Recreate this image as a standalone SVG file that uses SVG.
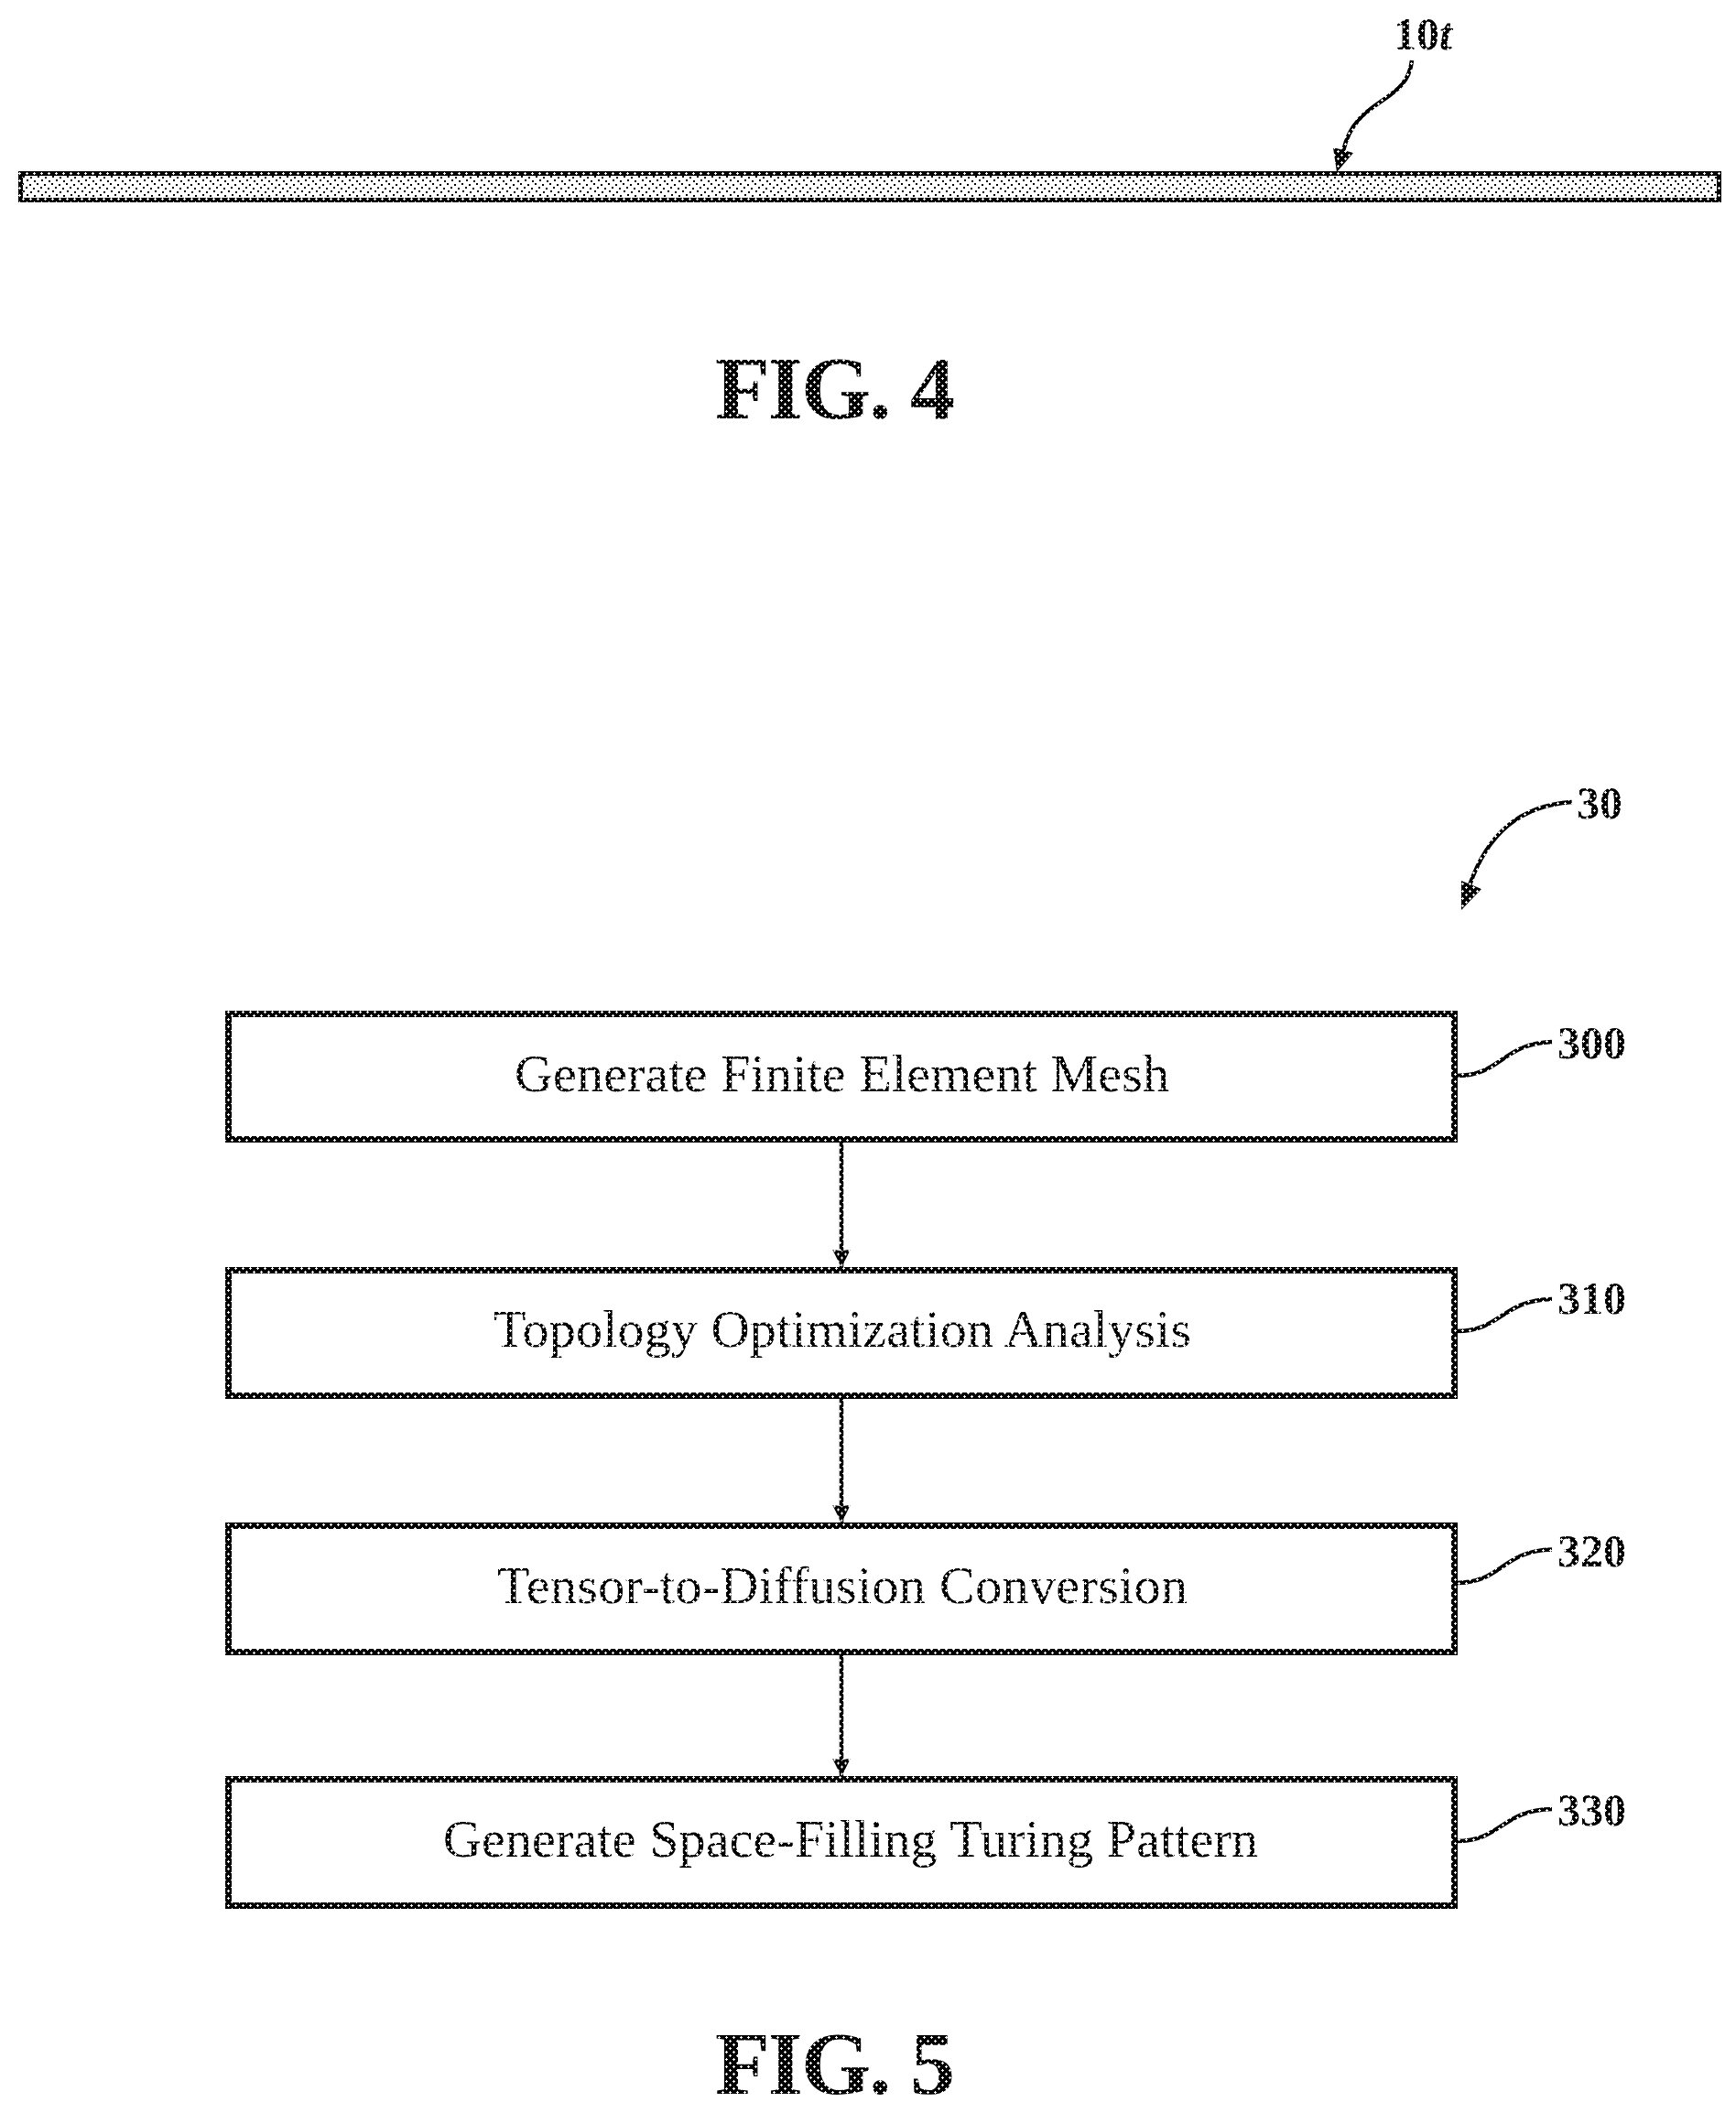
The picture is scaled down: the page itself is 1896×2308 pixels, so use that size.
<svg xmlns="http://www.w3.org/2000/svg" width="1896" height="2308" viewBox="0 0 1896 2308">
<defs>
<pattern id="ink" width="8" height="8" patternUnits="userSpaceOnUse"><rect width="8" height="8" fill="#000"/><path d="M1 0h1v1h1v1h-1v1h-1v-1h-1v-1h1zM5 4h1v1h1v1h-1v1h-1v-1h-1v-1h1z" fill="#fff"/></pattern>
<pattern id="stipple" width="16" height="16" patternUnits="userSpaceOnUse"><rect width="16" height="16" fill="#fff"/><path d="M1 1h2v2h-2zM9 0h2v2h-2zM5 5h2v2h-2zM13 4h2v2h-2zM0 9h2v2h-2zM8 8h2v2h-2zM4 13h2v2h-2zM12 12h2v2h-2z" fill="#000"/></pattern>
<marker id="arrow" markerUnits="userSpaceOnUse" markerWidth="22" markerHeight="22" refX="20" refY="10" orient="auto"><path d="M0 0L20 10L0 20L2 10z" fill="url(#ink)"/></marker>
</defs>
<style>
.box{fill:#fff;stroke:url(#ink);stroke-width:7}
.lead{fill:none;stroke:url(#ink);stroke-width:4.500}
.arr{fill:none;stroke:url(#ink);stroke-width:4.500}
text{font-family:"Liberation Serif","Times New Roman",serif;fill:url(#ink)}
.t{font-size:58px;text-anchor:start}
.n{font-size:50px;font-weight:bold}
.fig{font-size:98px;font-weight:bold}
</style>
<rect width="1896" height="2308" fill="#fff"/>
<g id="fig4-layer"><rect x="22.500" y="189.500" width="1855" height="29" fill="url(#stipple)" stroke="url(#ink)" stroke-width="5"/></g>
<g id="label-10t"><text class="n" x="1522" y="54">10<tspan font-style="italic">t</tspan></text></g>
<text id="fig4" class="fig" x="781" y="457" textLength="262">FIG. 4</text>
<g id="label-30"><text class="n" x="1722" y="894">30</text></g>
<g id="node-300"><rect class="box" x="249.500" y="1107.500" width="1339" height="137"/><text class="t" x="562" y="1191.500" textLength="715">Generate Finite Element Mesh</text></g>
<g id="node-310"><rect class="box" x="249.500" y="1387.500" width="1339" height="137"/><text class="t" x="539" y="1470.500" textLength="762">Topology Optimization Analysis</text></g>
<g id="node-320"><rect class="box" x="249.500" y="1666.500" width="1339" height="138"/><text class="t" x="543" y="1751" textLength="754">Tensor-to-Diffusion Conversion</text></g>
<g id="node-330"><rect class="box" x="249.500" y="1943.500" width="1339" height="138"/><text class="t" x="484" y="2028" textLength="890">Generate Space-Filling Turing Pattern</text></g>
<g id="labels"><text class="n" x="1701" y="1156">300</text><text class="n" x="1701" y="1435">310</text><text class="n" x="1701" y="1711">320</text><text class="n" x="1701" y="1994">330</text></g>
<g id="connectors">
<line class="arr" x1="919" y1="1247" x2="919" y2="1384.500" marker-end="url(#arrow)"/>
<line class="arr" x1="919" y1="1527" x2="919" y2="1663.500" marker-end="url(#arrow)"/>
<line class="arr" x1="919" y1="1807" x2="919" y2="1940.500" marker-end="url(#arrow)"/>
<path class="lead" d="M1591 1175C1640 1175 1640 1140 1695 1138"/>
<path class="lead" d="M1591 1454C1640 1454 1640 1420 1695 1419"/>
<path class="lead" d="M1591 1729C1640 1729 1640 1694 1695 1692.500"/>
<path class="lead" d="M1591 2011C1640 2011 1640 1977 1695 1976"/>
<path class="lead" d="M1542 66C1537 115 1480 105 1467 165"/>
<polygon points="1456,161 1478,167 1460,188" fill="url(#ink)"/>
<path class="lead" d="M1716.700 876C1660 880 1625 910 1605 967"/>
<polygon points="1596,962 1618,971 1596,994" fill="url(#ink)"/>
</g>
<text id="fig5" class="fig" x="781" y="2286.500" textLength="262">FIG. 5</text>
</svg>
